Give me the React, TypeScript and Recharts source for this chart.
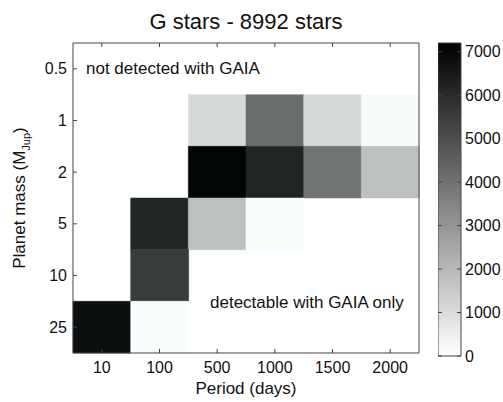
import React from 'react';
import { BarChart, Bar, Cell, XAxis, YAxis, Label } from 'recharts';

const FONT = '"Liberation Sans", Arial, Helvetica, sans-serif';

// categories
const PERIODS = ['10', '100', '500', '1000', '1500', '2000'];
const MASSES = ['0.5', '1', '2', '5', '10', '25'];

// counts per mass row (top to bottom), one value per period column
const ROW_05 = [0, 0, 0, 0, 0, 0];
const ROW_1 = [0, 0, 1200, 4200, 1200, 200];
const ROW_2 = [0, 0, 7150, 6250, 4000, 1850];
const ROW_5 = [0, 6200, 1850, 180, 0, 0];
const ROW_10 = [0, 5600, 0, 0, 0, 0];
const ROW_25 = [6850, 180, 0, 0, 0, 0];
const ROWS = [ROW_05, ROW_1, ROW_2, ROW_5, ROW_10, ROW_25];

const COLOR_MAX = 7200;
const CB_TICKS = [0, 1000, 2000, 3000, 4000, 5000, 6000, 7000];
const CB_W = 23;

const grayFor = (v: number) => {
  if (v <= 0) return 'transparent';
  const g = Math.round(255 * (1 - Math.min(v, COLOR_MAX) / COLOR_MAX));
  const t = Math.min(255, g + 3);
  return `rgb(${g},${t},${t})`;
};

// each row is one stacked band of height 1, coloured by its count
const data = PERIODS.map((p) => {
  const d: any = { period: p };
  ROWS.forEach((_, i) => { d['r' + i] = 1; });
  return d;
});
const massTicks = MASSES.map((_, i) => i + 0.5);

const MassTick = (props: any) => {
  const { x, y, payload } = props;
  return (
    <g>
      <text x={x} y={y} dy="0.35em" textAnchor="end" fontSize={16} fill="#111" fontFamily={FONT}>
        {MASSES[Math.round(payload.value - 0.5)]}
      </text>
      <line x1={x + 6} x2={x + 10} y1={y} y2={y} stroke="#444" />
    </g>
  );
};

const PeriodTick = (props: any) => {
  const { x, y, payload } = props;
  return (
    <g>
      <text x={x} y={y + 16} textAnchor="middle" fontSize={16} fill="#111" fontFamily={FONT}>
        {payload.value}
      </text>
      <line x1={x} x2={x} y1={y - 4} y2={y - 8} stroke="#444" />
    </g>
  );
};

const TopTick = (props: any) => (
  <line x1={props.x} x2={props.x} y1={props.y} y2={props.y + 4} stroke="#444" />
);

const RightTick = (props: any) => (
  <line x1={props.x} x2={props.x - 4} y1={props.y} y2={props.y} stroke="#444" />
);

const CbTick = (props: any) => {
  const { x, y, payload } = props;
  const edge = x - 4;
  return (
    <g>
      <line x1={edge} x2={edge - 4} y1={y} y2={y} stroke="#444" />
      <line x1={edge - CB_W} x2={edge - CB_W + 4} y1={y} y2={y} stroke="#444" />
      <text x={x} y={y} dy="0.35em" textAnchor="start" fontSize={16} fill="#111" fontFamily={FONT}>
        {payload.value}
      </text>
    </g>
  );
};

export default function App() {
  return (
    <div style={{ position: 'absolute', left: 0, top: 0, width: 503, height: 402, background: '#fff' }}>
      <BarChart
        width={503}
        height={402}
        data={data}
        margin={{ top: 42, right: 83, bottom: 0, left: 0 }}
        barCategoryGap={0}
        barGap={0}
        style={{ fontFamily: FONT }}
      >
        <text x={246} y={29} textAnchor="middle" fontSize={22} fill="#111" fontFamily={FONT}>
          G stars - 8992 stars
        </text>
        <XAxis
          dataKey="period"
          height={49}
          tickSize={0}
          tickMargin={4}
          tick={<PeriodTick />}
          axisLine={{ stroke: '#444' }}
          interval={0}
        >
          <Label
            content={(p: any) => {
              const vb = p.viewBox || { x: 73, y: 353, width: 346 };
              return (
                <text x={vb.x + vb.width / 2} y={vb.y + 41} textAnchor="middle" fontSize={17} fill="#111" fontFamily={FONT}>
                  Period (days)
                </text>
              );
            }}
          />
        </XAxis>
        <XAxis
          xAxisId="top"
          dataKey="period"
          orientation="top"
          height={1}
          tickSize={0}
          tickMargin={0}
          tick={<TopTick />}
          axisLine={{ stroke: '#444' }}
          interval={0}
        />
        <YAxis
          type="number"
          domain={[0, 6]}
          reversed
          ticks={massTicks}
          width={73}
          tickSize={0}
          tickMargin={6}
          tick={<MassTick />}
          axisLine={{ stroke: '#444' }}
          interval={0}
        >
          <Label
            content={(p: any) => {
              const vb = p.viewBox || { x: 0, y: 43, width: 73, height: 310 };
              const cx = 25;
              const cy = vb.y + vb.height / 2;
              return (
                <text
                  x={cx}
                  y={cy}
                  transform={`rotate(-90, ${cx}, ${cy})`}
                  textAnchor="middle"
                  fontSize={17}
                  fill="#111"
                  fontFamily={FONT}
                >
                  Planet mass (M
                  <tspan fontSize={11} dy={5}>Jup</tspan>
                  <tspan dy={-5}>)</tspan>
                </text>
              );
            }}
          />
        </YAxis>
        <YAxis
          yAxisId="right"
          type="number"
          orientation="right"
          domain={[0, 6]}
          reversed
          ticks={massTicks}
          width={1}
          tickSize={0}
          tickMargin={0}
          tick={<RightTick />}
          axisLine={{ stroke: '#444' }}
          interval={0}
        />
        {ROWS.map((row, i) => (
          <Bar key={i} dataKey={'r' + i} stackId="cells" isAnimationActive={false}>
            {row.map((v, j) => (
              <Cell key={j} fill={grayFor(v)} stroke={grayFor(v)} strokeWidth={0.5} />
            ))}
          </Bar>
        ))}
        <text x={86} y={74} fontSize={17} fill="#111" fontFamily={FONT}>
          not detected with GAIA
        </text>
        <text x={210} y={308} fontSize={17} fill="#111" fontFamily={FONT}>
          detectable with GAIA only
        </text>
      </BarChart>

      <div style={{ position: 'absolute', left: 438, top: 0 }}>
        <BarChart
          width={65}
          height={402}
          data={[{ name: 'scale', v: COLOR_MAX }]}
          margin={{ top: 43, right: 0, bottom: 46, left: 0 }}
          barCategoryGap={0}
        >
          <defs>
            <linearGradient id="cbGrad" x1="0" y1="0" x2="0" y2="1">
              <stop offset="0%" stopColor="#000" />
              <stop offset="100%" stopColor="#fff" />
            </linearGradient>
          </defs>
          <XAxis dataKey="name" hide />
          <YAxis
            type="number"
            orientation="right"
            domain={[0, COLOR_MAX]}
            ticks={CB_TICKS}
            width={42}
            tickSize={0}
            tickMargin={4}
            tick={<CbTick />}
            axisLine={false}
            interval={0}
          />
          <Bar dataKey="v" fill="url(#cbGrad)" stroke="#444" isAnimationActive={false} />
        </BarChart>
      </div>
    </div>
  );
}
